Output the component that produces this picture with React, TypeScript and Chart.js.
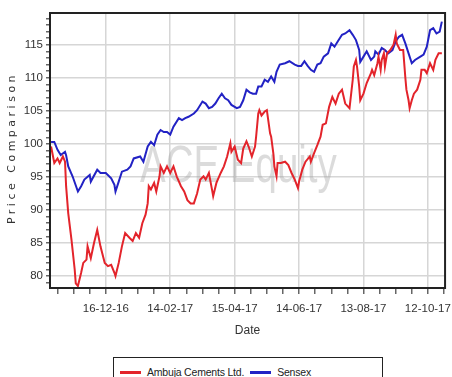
import React, { useEffect, useRef } from 'react';
import { Chart, registerables } from 'chart.js';

Chart.register(...registerables);

// ---- data ----
const START_DATE = '2016-10-25'; // day 0 of the x axis
const X_MAX_DAY = 368;
const xTickLabels = ['16-12-16', '14-02-17', '15-04-17', '14-06-17', '13-08-17', '12-10-17'];
const yMin = 78.2;
const yMax = 119.8;
const seriesNames = ['Ambuja Cements Ltd.', 'Sensex'];
const seriesColors = ['#e3242b', '#2222c4'];
const yAxisTitle = 'Price Comparison';
const xAxisTitle = 'Date';
const watermarkText = 'ACE Equity';

const ambujaDays = [
  1, 4, 7, 9, 12, 14, 15, 17, 20, 23, 24, 26, 29, 31, 34, 35, 38, 41, 44, 47, 51, 54, 57, 60, 61, 64, 67, 70, 74, 77,
  80, 83, 86, 89, 91, 92, 94, 97, 99, 102, 103, 106, 109, 112, 115, 118, 122, 125, 128, 131, 134, 137, 140, 143, 145,
  148, 151, 152, 155, 159, 162, 165, 168, 169, 172, 175, 178, 180, 183, 185, 188, 191, 192, 194, 195, 197, 200, 202,
  205, 206, 208, 209, 211, 212, 215, 219, 222, 225, 228, 231, 232, 235, 238, 242, 243, 246, 249, 252, 254, 257, 260,
  263, 266, 269, 272, 275, 279, 282, 283, 285, 286, 288, 289, 292, 295, 299, 300, 302, 305, 306, 308, 309, 311, 312,
  314, 317, 320, 322, 323, 326, 329, 331, 332, 334, 335, 337, 339, 342, 345, 346, 349, 351, 354, 357, 359, 362, 365,
];
const ambujaValues = [
  99.6, 97.1, 97.8, 97.1, 98.1, 97.3, 93.6, 89.5, 85.5, 81.0, 78.9, 78.5, 80.5, 82.0, 82.5, 84.5, 82.7, 85.0, 87.0, 84.5,
  82.0, 81.5, 81.7, 80.5, 80.0, 82.0, 84.5, 86.5, 85.8, 85.3, 86.5, 85.8, 88.0, 89.3, 91.0, 93.6, 93.1, 94.1, 92.8, 95.1,
  96.6, 95.6, 96.6, 95.6, 96.6, 95.1, 93.6, 92.8, 91.5, 91.0, 91.0, 92.5, 94.6, 95.1, 94.6, 95.6, 93.0, 92.1, 94.1, 95.6,
  96.6, 98.1, 100.1, 98.8, 99.6, 97.6, 97.1, 99.3, 100.4, 99.6, 98.1, 99.6, 101.1, 104.6, 105.1, 104.3, 104.9, 105.1,
  101.6, 101.1, 98.6, 96.6, 95.1, 97.1, 97.1, 97.3, 96.8, 95.6, 94.6, 93.3, 94.3, 96.1, 97.3, 98.1, 97.3, 98.6, 99.8,
  101.1, 102.9, 103.1, 105.6, 107.1, 106.1, 107.6, 108.2, 106.1, 105.4, 109.7, 111.7, 112.7, 111.7, 108.7, 106.6, 107.6,
  109.2, 110.7, 111.2, 110.4, 112.2, 113.2, 111.2, 112.7, 113.7, 111.7, 113.7, 114.2, 115.0, 116.5, 115.2, 114.2, 114.2,
  110.0, 108.2, 106.6, 105.4, 106.6, 107.6, 108.2, 109.7, 111.2, 111.2, 110.7, 112.2, 111.2, 112.7, 113.7, 113.7,
];

const sensexDays = [
  1, 4, 7, 10, 14, 15, 17, 21, 26, 29, 32, 37, 38, 44, 47, 52, 57, 60, 61, 64, 67, 72, 75, 78, 84, 87, 91, 94, 97, 100,
  103, 106, 109, 112, 115, 120, 123, 126, 129, 134, 137, 142, 145, 148, 151, 154, 157, 160, 163, 166, 169, 174, 177, 180,
  183, 186, 189, 192, 194, 197, 200, 203, 206, 209, 211, 214, 219, 223, 228, 231, 234, 237, 240, 243, 246, 249, 252, 255,
  259, 262, 265, 268, 272, 275, 279, 282, 285, 288, 289, 292, 295, 299, 302, 303, 306, 309, 312, 315, 319, 322, 325, 328,
  331, 334, 337, 340, 345, 348, 351, 354, 357, 360, 363, 365,
];
const sensexValues = [
  100.3, 100.3, 99.1, 98.3, 98.8, 98.3, 96.6, 95.1, 92.8, 93.6, 94.6, 95.3, 94.3, 96.1, 95.6, 95.6, 94.8, 93.8, 92.8,
  94.3, 95.8, 96.1, 96.6, 97.8, 98.1, 97.3, 99.6, 100.3, 99.8, 101.4, 102.1, 101.8, 101.8, 101.4, 102.6, 103.9, 103.6,
  103.9, 104.1, 104.6, 105.1, 106.4, 106.1, 105.4, 105.6, 106.1, 106.9, 107.6, 106.9, 106.6, 105.9, 105.4, 105.6, 106.6,
  108.2, 107.8, 107.6, 107.6, 108.7, 108.7, 109.7, 109.4, 110.2, 109.4, 110.9, 112.0, 112.2, 112.5, 112.0, 111.8, 111.8,
  112.5, 111.8, 111.2, 110.9, 112.0, 112.2, 113.2, 113.7, 115.2, 114.7, 115.5, 116.5, 116.7, 117.2, 116.5, 115.7, 114.2,
  112.4, 113.2, 114.0, 112.7, 113.2, 114.0, 113.5, 114.5, 114.2, 113.7, 114.2, 115.5, 116.2, 116.5, 115.2, 113.7, 112.2,
  112.7, 113.2, 113.5, 114.7, 117.2, 117.5, 116.7, 117.0, 118.5,
];

// ---- helpers ----
const DAY_MS = 86400000;
const startMs = Date.UTC(+START_DATE.slice(0, 4), +START_DATE.slice(5, 7) - 1, +START_DATE.slice(8, 10));
const labelToDay = (s: string) => {
  const [d, m, y] = s.split('-').map(Number);
  return Math.round((Date.UTC(2000 + y, m - 1, d) - startMs) / DAY_MS);
};
const majorDays = xTickLabels.map(labelToDay);
const majorLabelMap: Record<number, string> = {};
majorDays.forEach((d, i) => (majorLabelMap[d] = xTickLabels[i]));
const minorStep = (majorDays[1] - majorDays[0]) / 4;
const xTickDays: number[] = [];
for (let d = majorDays[0]; d >= 0; d -= minorStep) xTickDays.unshift(d);
for (let d = majorDays[0] + minorStep; d <= X_MAX_DAY; d += minorStep) xTickDays.push(d);
const yTickValues: number[] = [];
for (let v = Math.ceil(yMin); v <= Math.floor(yMax); v++) yTickValues.push(v);

const TICK_FONT = '"Liberation Sans", Arial, sans-serif';

const boxAndMarksPlugin = {
  id: 'boxAndMarks',
  beforeDatasetsDraw(chart: any) {
    const { ctx, chartArea } = chart;
    ctx.save();
    ctx.beginPath();
    ctx.rect(chartArea.left, chartArea.top, chartArea.right - chartArea.left, chartArea.bottom - chartArea.top);
    ctx.clip();
    ctx.fillStyle = 'rgba(160,160,160,0.38)';
    ctx.font = '52px "Liberation Sans", sans-serif';
    ctx.textBaseline = 'alphabetic';
    ctx.translate(140, 182);
    ctx.scale(0.74, 1);
    ctx.fillText(watermarkText, 0, 0);
    ctx.restore();
  },
  afterDraw(chart: any) {
    const { ctx, chartArea } = chart;
    ctx.save();
    ctx.strokeStyle = '#222';
    ctx.lineWidth = 2;
    ctx.strokeRect(chartArea.left, chartArea.top, chartArea.right - chartArea.left, chartArea.bottom - chartArea.top);
    ctx.translate(12, 148);
    ctx.rotate(-Math.PI / 2);
    ctx.fillStyle = '#333';
    ctx.font = '11px "DejaVu Sans", sans-serif';
    (ctx as any).letterSpacing = '3.5px';
    ctx.textAlign = 'center';
    ctx.textBaseline = 'middle';
    ctx.fillText(yAxisTitle, 0, 0);
    ctx.restore();
  },
};

export default function App() {
  const canvasRef = useRef<HTMLCanvasElement | null>(null);

  useEffect(() => {
    const canvas = canvasRef.current;
    if (!canvas) return;
    const chart = new Chart(canvas, {
      type: 'line',
      data: {
        datasets: [
          {
            label: seriesNames[0],
            data: ambujaDays.map((d, i) => ({ x: d, y: ambujaValues[i] })),
            borderColor: seriesColors[0],
            backgroundColor: seriesColors[0],
            borderWidth: 2,
            pointRadius: 0,
            tension: 0,
          },
          {
            label: seriesNames[1],
            data: sensexDays.map((d, i) => ({ x: d, y: sensexValues[i] })),
            borderColor: seriesColors[1],
            backgroundColor: seriesColors[1],
            borderWidth: 2,
            pointRadius: 0,
            tension: 0,
          },
        ],
      },
      options: {
        responsive: false,
        animation: false,
        devicePixelRatio: 1,
        layout: { padding: { top: 13, right: 3, bottom: 35, left: 0 } },
        plugins: { legend: { display: false }, tooltip: { enabled: false } },
        scales: {
          x: {
            type: 'linear',
            min: 0,
            max: X_MAX_DAY,
            afterBuildTicks: (scale: any) => {
              scale.ticks = xTickDays.map((v) => ({ value: v }));
            },
            afterFit: (scale: any) => {
              scale.height = 54;
            },
            ticks: {
              autoSkip: false,
              maxRotation: 0,
              padding: 8,
              color: '#333',
              font: { family: TICK_FONT, size: 11.5 },
              callback: (v: any) => majorLabelMap[v] ?? '',
            },
            grid: {
              color: (c: any) => (c.tick && majorLabelMap[c.tick.value] !== undefined ? '#d6d6d6' : 'rgba(0,0,0,0)'),
              tickColor: '#666',
              tickLength: 6,
              lineWidth: 1.5,
            },
            border: { display: false },
            title: {
              display: true,
              text: xAxisTitle,
              color: '#333',
              font: { family: TICK_FONT, size: 12 },
              padding: 4,
            },
          },
          y: {
            type: 'linear',
            min: yMin,
            max: yMax,
            afterBuildTicks: (scale: any) => {
              scale.ticks = yTickValues.map((v) => ({ value: v }));
            },
            afterFit: (scale: any) => {
              scale.width = 50;
            },
            ticks: {
              autoSkip: false,
              padding: 3,
              color: '#333',
              font: { family: TICK_FONT, size: 11.5 },
              callback: (v: any) => (v % 5 === 0 ? String(v) : ''),
            },
            grid: {
              color: (c: any) => (c.tick && c.tick.value % 5 === 0 ? '#d6d6d6' : 'rgba(0,0,0,0)'),
              tickColor: '#666',
              tickLength: 4,
              lineWidth: 1.5,
            },
            border: { display: false },
          },
        },
      },
      plugins: [boxAndMarksPlugin],
    } as any);
    return () => chart.destroy();
  }, []);

  return (
    <div style={{ position: 'absolute', left: 0, top: 0, width: 452, height: 377, overflow: 'hidden', background: '#fff' }}>
      <canvas ref={canvasRef} width={452} height={377} style={{ display: 'block' }} />
      <div
        style={{
          position: 'absolute',
          left: 113,
          top: 357,
          width: 268,
          height: 28,
          border: '1px solid #222',
          background: '#fff',
          display: 'flex',
          alignItems: 'center',
          fontFamily: TICK_FONT,
          fontSize: 10.5,
          letterSpacing: '-0.2px',
          color: '#222',
          boxSizing: 'content-box',
        }}
      >
        {seriesNames.map((n, i) => (
          <div key={n} style={{ display: 'flex', alignItems: 'center', marginLeft: i === 0 ? 6 : 6 }}>
            <span style={{ display: 'inline-block', width: 21, height: 3, background: seriesColors[i], marginRight: 6 }} />
            <span>{n}</span>
          </div>
        ))}
      </div>
    </div>
  );
}
